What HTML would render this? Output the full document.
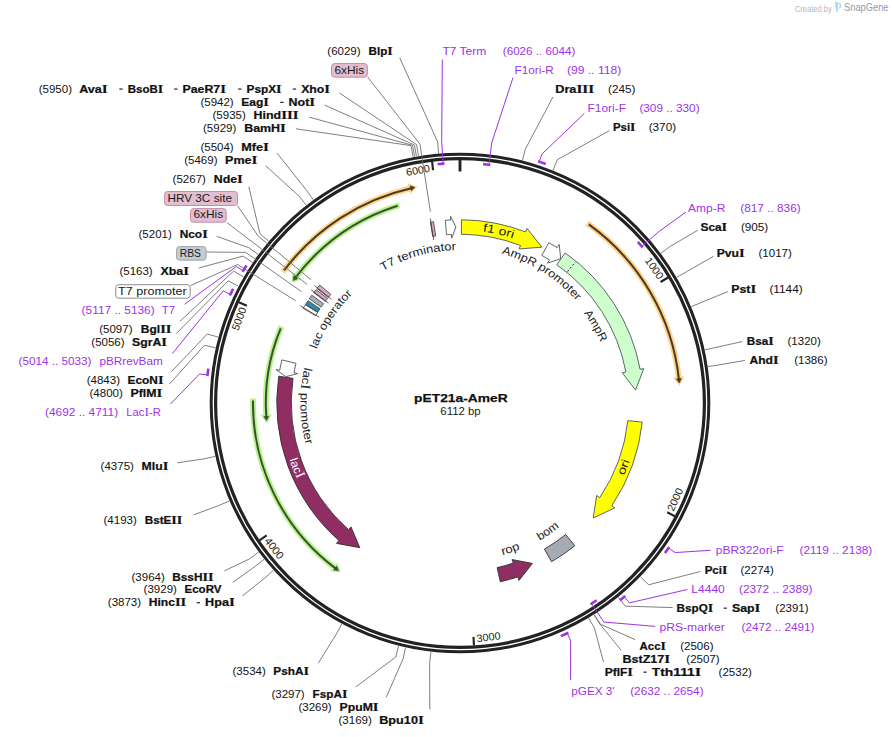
<!DOCTYPE html>
<html><head><meta charset="utf-8"><style>html,body{margin:0;padding:0;background:#fff;overflow:hidden}svg{display:block}</style></head>
<body><svg width="892" height="737" viewBox="0 0 892 737" font-family='"Liberation Sans", sans-serif'>
<defs><path id="p1" d="M311.61,365.73 A153.00,153.00 0 0 1 566.47,293.13"/><path id="p2" d="M332.86,285.68 A173.00,173.00 0 0 1 625.17,351.55"/><path id="p3" d="M387.71,265.89 A155.00,155.00 0 0 1 614.89,408.95"/><path id="p4" d="M461.07,250.00 A153.00,153.00 0 0 1 591.96,480.42"/><path id="p5" d="M486.84,580.48 A179.50,179.50 0 0 0 600.28,291.01"/><path id="p6" d="M391.30,546.39 A159.00,159.00 0 0 0 618.53,390.80"/><path id="p7" d="M356.34,522.24 A158.00,158.00 0 0 0 615.10,433.15"/><path id="p8" d="M318.98,291.63 A179.70,179.70 0 0 0 434.06,580.82"/><path id="p9" d="M377.56,266.34 A159.60,159.60 0 0 0 382.87,542.72"/><path id="p10" d="M323.68,472.46 A153.00,153.00 0 0 1 468.01,250.21"/></defs>
<rect width="892" height="737" fill="#fff"/>
<circle cx="460.0" cy="403.0" r="246.55" fill="none" stroke="#222" stroke-width="7.5"/>
<circle cx="460.0" cy="403.0" r="246.65" fill="none" stroke="#fff" stroke-width="1.3"/>
<line x1="460.00" y1="160.00" x2="460.00" y2="171.50" stroke="#222" stroke-width="2.9"/>
<line x1="668.07" y1="277.48" x2="660.62" y2="281.98" stroke="#222" stroke-width="2.1"/>
<line x1="674.95" y1="516.34" x2="667.26" y2="512.28" stroke="#222" stroke-width="2.1"/>
<line x1="473.98" y1="645.60" x2="473.48" y2="636.91" stroke="#222" stroke-width="2.1"/>
<line x1="259.49" y1="540.28" x2="266.67" y2="535.36" stroke="#222" stroke-width="2.1"/>
<line x1="238.88" y1="302.22" x2="246.80" y2="305.83" stroke="#222" stroke-width="2.1"/>
<line x1="432.08" y1="161.61" x2="433.08" y2="170.25" stroke="#222" stroke-width="2.1"/>
<text x="651.30" y="270.33" transform="rotate(55.26 651.30 270.33)" text-anchor="middle" font-size="10.6" textLength="24.0" lengthAdjust="spacingAndGlyphs" fill="#222">1000</text>
<text x="678.52" y="501.02" transform="rotate(-65.84 678.52 501.02)" text-anchor="middle" font-size="10.6" textLength="24.0" lengthAdjust="spacingAndGlyphs" fill="#222">2000</text>
<text x="488.94" y="640.75" transform="rotate(-6.94 488.94 640.75)" text-anchor="middle" font-size="10.6" textLength="24.0" lengthAdjust="spacingAndGlyphs" fill="#222">3000</text>
<text x="271.37" y="550.58" transform="rotate(51.96 271.37 550.58)" text-anchor="middle" font-size="10.6" textLength="24.0" lengthAdjust="spacingAndGlyphs" fill="#222">4000</text>
<text x="242.46" y="320.10" transform="rotate(290.86 242.46 320.10)" text-anchor="middle" font-size="10.6" textLength="24.0" lengthAdjust="spacingAndGlyphs" fill="#222">5000</text>
<text x="418.62" y="173.91" transform="rotate(349.76 418.62 173.91)" text-anchor="middle" font-size="10.6" textLength="24.0" lengthAdjust="spacingAndGlyphs" fill="#222">6000</text>
<path d="M461.47,219.76 A183.25,183.25 0 0 1 525.67,231.92 L527.01,228.42 L541.81,247.17 L519.13,248.96 L520.47,245.46 A168.75,168.75 0 0 0 461.35,234.26 Z" fill="#ffff00" stroke="#50545c" stroke-width="0.9" stroke-linejoin="miter"/>
<path d="M445.37,220.34 A183.25,183.25 0 0 1 450.73,219.98 L450.54,216.24 L455.91,227.05 L451.65,238.21 L451.46,234.47 A168.75,168.75 0 0 0 446.53,234.79 Z" fill="#fff" stroke="#50545c" stroke-width="0.9" stroke-linejoin="miter"/>
<path d="M548.84,242.73 A183.25,183.25 0 0 1 557.24,247.68 L559.23,244.50 L560.70,258.65 L547.56,263.15 L549.55,259.97 A168.75,168.75 0 0 0 541.81,255.41 Z" fill="#fff" stroke="#50545c" stroke-width="0.9" stroke-linejoin="miter"/>
<path d="M565.11,252.89 A183.25,183.25 0 0 1 640.12,369.29 L643.81,368.60 L635.53,390.11 L622.18,372.65 L625.87,371.96 A168.75,168.75 0 0 0 556.79,264.77 Z" fill="#ccffcc" stroke="#50545c" stroke-width="0.9" stroke-linejoin="miter"/>
<line x1="567.52" y1="271.64" x2="575.43" y2="261.97" stroke="#222" stroke-width="1" stroke-dasharray="2,2"/>
<path d="M642.25,422.15 A183.25,183.25 0 0 1 611.74,505.74 L614.85,507.84 L593.23,518.00 L596.63,495.51 L599.74,497.61 A168.75,168.75 0 0 0 627.83,420.64 Z" fill="#ffff00" stroke="#50545c" stroke-width="0.9" stroke-linejoin="miter"/>
<path d="M574.83,545.81 A183.25,183.25 0 0 1 551.62,561.70 L544.38,549.14 A168.75,168.75 0 0 0 565.74,534.51 Z" fill="#a6abb3" stroke="#333" stroke-width="0.9"/>
<path d="M500.29,581.77 A183.25,183.25 0 0 0 517.84,576.88 L519.03,580.44 L532.43,563.41 L512.08,559.56 L513.27,563.12 A168.75,168.75 0 0 1 497.10,567.62 Z" fill="#902d62" stroke="#333" stroke-width="0.9" stroke-linejoin="miter"/>
<path d="M278.72,376.23 A183.25,183.25 0 0 0 338.93,540.56 L336.46,543.38 L359.81,547.70 L350.99,526.86 L348.51,529.68 A168.75,168.75 0 0 1 293.06,378.35 Z" fill="#902d62" stroke="#333" stroke-width="0.9" stroke-linejoin="miter"/>
<path d="M281.89,359.91 A183.25,183.25 0 0 0 279.70,370.23 L276.01,369.56 L285.98,376.68 L297.66,373.50 L293.97,372.83 A168.75,168.75 0 0 1 295.98,363.32 Z" fill="#fff" stroke="#50545c" stroke-width="0.9" stroke-linejoin="miter"/>
<path d="M303.17,308.21 A183.25,183.25 0 0 1 305.36,304.67 L317.60,312.45 A168.75,168.75 0 0 0 315.58,315.71 Z" fill="#fff" stroke="#3a3a3a" stroke-width="0.8"/>
<line x1="319.08" y1="317.17" x2="300.29" y2="305.72" stroke="#3a3a3a" stroke-width="0.8"/>
<path d="M305.53,304.41 A183.25,183.25 0 0 1 307.99,300.66 L320.02,308.76 A168.75,168.75 0 0 0 317.76,312.21 Z" fill="#2e8ca6" stroke="#3a3a3a" stroke-width="0.8"/>
<path d="M309.25,298.81 A183.25,183.25 0 0 1 311.84,295.16 L323.56,303.69 A168.75,168.75 0 0 0 321.18,307.06 Z" fill="#a9b0b8" stroke="#3a3a3a" stroke-width="0.8"/>
<path d="M313.75,292.59 A183.25,183.25 0 0 1 316.09,289.55 L327.48,298.53 A168.75,168.75 0 0 0 325.32,301.33 Z" fill="#dba5c4" stroke="#3a3a3a" stroke-width="0.8"/>
<line x1="328.62" y1="303.17" x2="311.11" y2="289.86" stroke="#3a3a3a" stroke-width="0.8"/>
<path d="M316.99,288.42 A183.25,183.25 0 0 1 319.73,285.09 L330.82,294.42 A168.75,168.75 0 0 0 328.30,297.49 Z" fill="#dba5c4" stroke="#3a3a3a" stroke-width="0.8"/>
<line x1="331.59" y1="299.38" x2="314.47" y2="285.56" stroke="#3a3a3a" stroke-width="0.8"/>
<path d="M430.39,222.16 A183.25,183.25 0 0 1 433.55,221.67 L435.64,236.02 A168.75,168.75 0 0 0 432.73,236.47 Z" fill="#dba5c4" stroke="#3a3a3a" stroke-width="0.8"/>
<line x1="433.76" y1="240.10" x2="430.26" y2="218.38" stroke="#3a3a3a" stroke-width="0.8"/>
<path d="M587.18,223.24 A220.20,220.20 0 0 1 678.71,377.40" fill="none" stroke="#fdd38d" stroke-width="5.9"/>
<path d="M684.41,376.21 L679.52,385.66 L672.89,377.59 Z" fill="#fdd38d"/>
<path d="M588.81,224.40 A220.20,220.20 0 0 1 678.92,379.28" fill="none" stroke="#4a3c22" stroke-width="2.0"/>
<path d="M681.35,378.51 L679.29,382.97 L676.38,379.06 Z" fill="#4a3c22" stroke="#4a3c22" stroke-width="0.6" stroke-linejoin="miter"/>
<path d="M282.86,272.02 A220.30,220.30 0 0 1 409.33,188.61" fill="none" stroke="#fdd38d" stroke-width="5.9"/>
<path d="M407.50,183.08 L417.44,186.85 L410.19,194.36 Z" fill="#fdd38d"/>
<path d="M284.06,270.42 A220.30,220.30 0 0 1 411.18,188.18" fill="none" stroke="#4a3c22" stroke-width="2.0"/>
<path d="M410.14,185.85 L414.80,187.39 L411.26,190.72 Z" fill="#4a3c22" stroke="#4a3c22" stroke-width="0.6" stroke-linejoin="miter"/>
<path d="M399.63,205.10 A206.90,206.90 0 0 0 296.59,276.10" fill="none" stroke="#b6f490" stroke-width="5.9"/>
<path d="M292.32,272.14 L291.63,282.76 L301.46,279.28 Z" fill="#b6f490"/>
<path d="M397.72,205.70 A206.90,206.90 0 0 0 295.43,277.61" fill="none" stroke="#3c4f2e" stroke-width="2.0"/>
<path d="M293.75,275.69 L293.21,280.57 L297.72,278.73 Z" fill="#3c4f2e" stroke="#3c4f2e" stroke-width="0.6" stroke-linejoin="miter"/>
<path d="M281.49,326.53 A194.20,194.20 0 0 0 266.17,415.02" fill="none" stroke="#b6f490" stroke-width="5.9"/>
<path d="M260.35,414.86 L266.86,423.29 L271.93,414.17 Z" fill="#b6f490"/>
<path d="M280.71,328.37 A194.20,194.20 0 0 0 266.30,416.91" fill="none" stroke="#3c4f2e" stroke-width="2.0"/>
<path d="M263.77,416.59 L266.60,420.60 L268.76,416.24 Z" fill="#3c4f2e" stroke="#3c4f2e" stroke-width="0.6" stroke-linejoin="miter"/>
<path d="M253.05,398.54 A207.00,207.00 0 0 0 334.04,567.27" fill="none" stroke="#b6f490" stroke-width="5.9"/>
<path d="M330.11,571.56 L340.73,572.19 L337.19,562.37 Z" fill="#b6f490"/>
<path d="M253.01,400.54 A207.00,207.00 0 0 0 335.56,568.42" fill="none" stroke="#3c4f2e" stroke-width="2.0"/>
<path d="M333.65,570.11 L338.53,570.62 L336.67,566.12 Z" fill="#3c4f2e" stroke="#3c4f2e" stroke-width="0.6" stroke-linejoin="miter"/>
<text font-size="11.5" fill="#222" textLength="77" lengthAdjust="spacingAndGlyphs"><textPath href="#p1" startOffset="50%" text-anchor="middle">T7 terminator</textPath></text>
<text font-size="11.5" fill="#222" textLength="31" lengthAdjust="spacingAndGlyphs"><textPath href="#p2" startOffset="50%" text-anchor="middle">f1 ori</textPath></text>
<text font-size="11.5" fill="#222" textLength="90" lengthAdjust="spacingAndGlyphs"><textPath href="#p3" startOffset="50%" text-anchor="middle">AmpR promoter</textPath></text>
<text font-size="11.5" fill="#222" textLength="34" lengthAdjust="spacingAndGlyphs"><textPath href="#p4" startOffset="50%" text-anchor="middle">AmpR</textPath></text>
<text font-size="11.5" fill="#222" textLength="16" lengthAdjust="spacingAndGlyphs"><textPath href="#p5" startOffset="50%" text-anchor="middle">ori</textPath></text>
<text font-size="11.5" fill="#222" textLength="24" lengthAdjust="spacingAndGlyphs"><textPath href="#p6" startOffset="50%" text-anchor="middle">bom</textPath></text>
<text font-size="11.5" fill="#222" textLength="19" lengthAdjust="spacingAndGlyphs"><textPath href="#p7" startOffset="50%" text-anchor="middle">rop</textPath></text>
<text font-size="11.5" fill="#fff" textLength="21" lengthAdjust="spacingAndGlyphs"><textPath href="#p8" startOffset="50%" text-anchor="middle">lac<tspan font-family="Liberation Serif" font-size="13.80">I</tspan></textPath></text>
<text font-size="11.5" fill="#222" textLength="78" lengthAdjust="spacingAndGlyphs"><textPath href="#p9" startOffset="50%" text-anchor="middle">lac<tspan font-family="Liberation Serif" font-size="13.80">I</tspan> promoter</textPath></text>
<text font-size="11.5" fill="#222" textLength="66" lengthAdjust="spacingAndGlyphs"><textPath href="#p10" startOffset="50%" text-anchor="middle">lac operator</textPath></text>
<text x="460.85" y="401.8" text-anchor="middle" font-size="11.6" font-weight="bold" fill="#111" stroke="#111" stroke-width="0.25" textLength="93.5" lengthAdjust="spacingAndGlyphs">pET21a-AmeR</text>
<text x="460.5" y="414.9" text-anchor="middle" font-size="10.5" fill="#222" textLength="40.3" lengthAdjust="spacingAndGlyphs">6112 bp</text>
<text x="327.30" y="54.80" font-size="10.8" fill="#111" textLength="33.30" lengthAdjust="spacingAndGlyphs">(6029)</text>
<text x="368.50" y="54.80" font-size="10.8" font-weight="bold" stroke="#111" stroke-width="0.22" fill="#111" textLength="24.20" lengthAdjust="spacingAndGlyphs">Blp<tspan font-family="Liberation Serif" font-size="12.96">I</tspan></text>
<polyline points="399.70,57.80 437.67,141.95 438.65,153.41" fill="none" stroke="#707070" stroke-width="0.9"/>
<text x="38.70" y="92.60" font-size="10.8" fill="#111" textLength="33.30" lengthAdjust="spacingAndGlyphs">(5950)</text>
<text x="79.30" y="92.60" font-size="10.8" font-weight="bold" stroke="#111" stroke-width="0.22" fill="#111" textLength="28.30" lengthAdjust="spacingAndGlyphs">Ava<tspan font-family="Liberation Serif" font-size="12.96">I</tspan></text>
<rect x="119.30" y="88.50" width="3.3" height="1.1" fill="#111"/>
<text x="127.70" y="92.60" font-size="10.8" font-weight="bold" stroke="#111" stroke-width="0.22" fill="#111" textLength="35.50" lengthAdjust="spacingAndGlyphs">BsoB<tspan font-family="Liberation Serif" font-size="12.96">I</tspan></text>
<rect x="174.20" y="88.50" width="3.3" height="1.1" fill="#111"/>
<text x="182.60" y="92.60" font-size="10.8" font-weight="bold" stroke="#111" stroke-width="0.22" fill="#111" textLength="43.30" lengthAdjust="spacingAndGlyphs">PaeR7<tspan font-family="Liberation Serif" font-size="12.96">I</tspan></text>
<rect x="238.20" y="88.50" width="3.3" height="1.1" fill="#111"/>
<text x="246.60" y="92.60" font-size="10.8" font-weight="bold" stroke="#111" stroke-width="0.22" fill="#111" textLength="35.00" lengthAdjust="spacingAndGlyphs">PspX<tspan font-family="Liberation Serif" font-size="12.96">I</tspan></text>
<rect x="292.80" y="88.50" width="3.3" height="1.1" fill="#111"/>
<text x="301.20" y="92.60" font-size="10.8" font-weight="bold" stroke="#111" stroke-width="0.22" fill="#111" textLength="28.80" lengthAdjust="spacingAndGlyphs">Xho<tspan font-family="Liberation Serif" font-size="12.96">I</tspan></text>
<polyline points="339.50,93.00 416.57,144.62 418.47,155.97" fill="none" stroke="#707070" stroke-width="0.9"/>
<text x="200.40" y="105.90" font-size="10.8" fill="#111" textLength="33.30" lengthAdjust="spacingAndGlyphs">(5942)</text>
<text x="241.20" y="105.90" font-size="10.8" font-weight="bold" stroke="#111" stroke-width="0.22" fill="#111" textLength="27.80" lengthAdjust="spacingAndGlyphs">Eag<tspan font-family="Liberation Serif" font-size="12.96">I</tspan></text>
<rect x="280.20" y="101.80" width="3.3" height="1.1" fill="#111"/>
<text x="288.60" y="105.90" font-size="10.8" font-weight="bold" stroke="#111" stroke-width="0.22" fill="#111" textLength="26.60" lengthAdjust="spacingAndGlyphs">Not<tspan font-family="Liberation Serif" font-size="12.96">I</tspan></text>
<polyline points="324.60,105.10 414.45,144.99 416.44,156.32" fill="none" stroke="#707070" stroke-width="0.9"/>
<text x="212.50" y="119.40" font-size="10.8" fill="#111" textLength="33.30" lengthAdjust="spacingAndGlyphs">(5935)</text>
<text x="253.60" y="119.40" font-size="10.8" font-weight="bold" stroke="#111" stroke-width="0.22" fill="#111" textLength="45.00" lengthAdjust="spacingAndGlyphs">Hind<tspan font-family="Liberation Serif" font-size="12.96">I</tspan><tspan font-family="Liberation Serif" font-size="12.96">I</tspan><tspan font-family="Liberation Serif" font-size="12.96">I</tspan></text>
<polyline points="309.30,117.20 412.59,145.33 414.67,156.64" fill="none" stroke="#707070" stroke-width="0.9"/>
<text x="203.00" y="132.00" font-size="10.8" fill="#111" textLength="33.30" lengthAdjust="spacingAndGlyphs">(5929)</text>
<text x="244.20" y="132.00" font-size="10.8" font-weight="bold" stroke="#111" stroke-width="0.22" fill="#111" textLength="41.70" lengthAdjust="spacingAndGlyphs">BamH<tspan font-family="Liberation Serif" font-size="12.96">I</tspan></text>
<polyline points="295.90,128.80 411.00,145.62 413.15,156.92" fill="none" stroke="#707070" stroke-width="0.9"/>
<text x="200.40" y="150.80" font-size="10.8" fill="#111" textLength="33.30" lengthAdjust="spacingAndGlyphs">(5504)</text>
<text x="241.20" y="150.80" font-size="10.8" font-weight="bold" stroke="#111" stroke-width="0.22" fill="#111" textLength="27.80" lengthAdjust="spacingAndGlyphs">Mfe<tspan font-family="Liberation Serif" font-size="12.96">I</tspan></text>
<polyline points="277.00,153.00 306.70,190.53 313.43,199.86" fill="none" stroke="#707070" stroke-width="0.9"/>
<text x="184.20" y="163.80" font-size="10.8" fill="#111" textLength="33.30" lengthAdjust="spacingAndGlyphs">(5469)</text>
<text x="225.10" y="163.80" font-size="10.8" font-weight="bold" stroke="#111" stroke-width="0.22" fill="#111" textLength="32.30" lengthAdjust="spacingAndGlyphs">Pme<tspan font-family="Liberation Serif" font-size="12.96">I</tspan></text>
<polyline points="265.50,165.60 299.15,196.18 306.21,205.26" fill="none" stroke="#707070" stroke-width="0.9"/>
<text x="172.60" y="182.60" font-size="10.8" fill="#111" textLength="33.30" lengthAdjust="spacingAndGlyphs">(5267)</text>
<text x="213.80" y="182.60" font-size="10.8" font-weight="bold" stroke="#111" stroke-width="0.22" fill="#111" textLength="29.10" lengthAdjust="spacingAndGlyphs">Nde<tspan font-family="Liberation Serif" font-size="12.96">I</tspan></text>
<polyline points="248.80,186.60 259.97,233.79 268.75,241.22" fill="none" stroke="#707070" stroke-width="0.9"/>
<text x="138.50" y="237.90" font-size="10.8" fill="#111" textLength="33.30" lengthAdjust="spacingAndGlyphs">(5201)</text>
<text x="179.70" y="237.90" font-size="10.8" font-weight="bold" stroke="#111" stroke-width="0.22" fill="#111" textLength="28.00" lengthAdjust="spacingAndGlyphs">Nco<tspan font-family="Liberation Serif" font-size="12.96">I</tspan></text>
<polyline points="216.60,236.30 248.96,247.74 258.22,254.55" fill="none" stroke="#707070" stroke-width="0.9"/>
<text x="119.40" y="275.30" font-size="10.8" fill="#111" textLength="33.30" lengthAdjust="spacingAndGlyphs">(5163)</text>
<text x="160.50" y="275.30" font-size="10.8" font-weight="bold" stroke="#111" stroke-width="0.22" fill="#111" textLength="28.50" lengthAdjust="spacingAndGlyphs">Xba<tspan font-family="Liberation Serif" font-size="12.96">I</tspan></text>
<polyline points="198.70,268.00 243.06,256.10 252.58,262.55" fill="none" stroke="#707070" stroke-width="0.9"/>
<text x="99.20" y="332.70" font-size="10.8" fill="#111" textLength="33.30" lengthAdjust="spacingAndGlyphs">(5097)</text>
<text x="140.80" y="332.70" font-size="10.8" font-weight="bold" stroke="#111" stroke-width="0.22" fill="#111" textLength="30.60" lengthAdjust="spacingAndGlyphs">Bgl<tspan font-family="Liberation Serif" font-size="12.96">I</tspan><tspan font-family="Liberation Serif" font-size="12.96">I</tspan></text>
<polyline points="180.00,321.30 233.60,271.15 243.53,276.93" fill="none" stroke="#707070" stroke-width="0.9"/>
<text x="91.30" y="346.00" font-size="10.8" fill="#111" textLength="33.30" lengthAdjust="spacingAndGlyphs">(5056)</text>
<text x="132.10" y="346.00" font-size="10.8" font-weight="bold" stroke="#111" stroke-width="0.22" fill="#111" textLength="34.90" lengthAdjust="spacingAndGlyphs">SgrA<tspan font-family="Liberation Serif" font-size="12.96">I</tspan></text>
<polyline points="176.20,333.70 228.24,280.80 238.41,286.17" fill="none" stroke="#707070" stroke-width="0.9"/>
<text x="86.70" y="383.70" font-size="10.8" fill="#111" textLength="33.30" lengthAdjust="spacingAndGlyphs">(4843)</text>
<text x="127.60" y="383.70" font-size="10.8" font-weight="bold" stroke="#111" stroke-width="0.22" fill="#111" textLength="35.90" lengthAdjust="spacingAndGlyphs">EcoN<tspan font-family="Liberation Serif" font-size="12.96">I</tspan></text>
<polyline points="171.40,371.70 207.23,334.06 218.33,337.09" fill="none" stroke="#707070" stroke-width="0.9"/>
<text x="89.50" y="396.70" font-size="10.8" fill="#111" textLength="33.30" lengthAdjust="spacingAndGlyphs">(4800)</text>
<text x="130.50" y="396.70" font-size="10.8" font-weight="bold" stroke="#111" stroke-width="0.22" fill="#111" textLength="31.80" lengthAdjust="spacingAndGlyphs">PflM<tspan font-family="Liberation Serif" font-size="12.96">I</tspan></text>
<polyline points="169.50,384.00 204.43,345.30 215.65,347.83" fill="none" stroke="#707070" stroke-width="0.9"/>
<text x="100.60" y="470.10" font-size="10.8" fill="#111" textLength="33.30" lengthAdjust="spacingAndGlyphs">(4375)</text>
<text x="141.60" y="470.10" font-size="10.8" font-weight="bold" stroke="#111" stroke-width="0.22" fill="#111" textLength="26.80" lengthAdjust="spacingAndGlyphs">Mlu<tspan font-family="Liberation Serif" font-size="12.96">I</tspan></text>
<polyline points="177.40,462.80 204.02,458.86 215.26,456.41" fill="none" stroke="#707070" stroke-width="0.9"/>
<text x="103.50" y="523.90" font-size="10.8" fill="#111" textLength="33.30" lengthAdjust="spacingAndGlyphs">(4193)</text>
<text x="144.70" y="523.90" font-size="10.8" font-weight="bold" stroke="#111" stroke-width="0.22" fill="#111" textLength="37.60" lengthAdjust="spacingAndGlyphs">BstE<tspan font-family="Liberation Serif" font-size="12.96">I</tspan><tspan font-family="Liberation Serif" font-size="12.96">I</tspan></text>
<polyline points="193.50,514.90 218.88,505.50 229.46,501.00" fill="none" stroke="#707070" stroke-width="0.9"/>
<text x="131.50" y="580.50" font-size="10.8" fill="#111" textLength="33.30" lengthAdjust="spacingAndGlyphs">(3964)</text>
<text x="172.20" y="580.50" font-size="10.8" font-weight="bold" stroke="#111" stroke-width="0.22" fill="#111" textLength="41.40" lengthAdjust="spacingAndGlyphs">BssH<tspan font-family="Liberation Serif" font-size="12.96">I</tspan><tspan font-family="Liberation Serif" font-size="12.96">I</tspan></text>
<polyline points="224.40,570.90 249.44,558.91 258.68,552.07" fill="none" stroke="#707070" stroke-width="0.9"/>
<text x="143.60" y="593.30" font-size="10.8" fill="#111" textLength="33.30" lengthAdjust="spacingAndGlyphs">(3929)</text>
<text x="184.50" y="593.30" font-size="10.8" font-weight="bold" stroke="#111" stroke-width="0.22" fill="#111" textLength="37.00" lengthAdjust="spacingAndGlyphs">EcoRV</text>
<polyline points="232.70,582.50 255.18,566.38 264.17,559.21" fill="none" stroke="#707070" stroke-width="0.9"/>
<text x="107.80" y="606.30" font-size="10.8" fill="#111" textLength="33.30" lengthAdjust="spacingAndGlyphs">(3873)</text>
<text x="148.70" y="606.30" font-size="10.8" font-weight="bold" stroke="#111" stroke-width="0.22" fill="#111" textLength="37.60" lengthAdjust="spacingAndGlyphs">Hinc<tspan font-family="Liberation Serif" font-size="12.96">I</tspan><tspan font-family="Liberation Serif" font-size="12.96">I</tspan></text>
<rect x="196.70" y="602.20" width="3.3" height="1.1" fill="#111"/>
<text x="205.10" y="606.30" font-size="10.8" font-weight="bold" stroke="#111" stroke-width="0.22" fill="#111" textLength="29.80" lengthAdjust="spacingAndGlyphs">Hpa<tspan font-family="Liberation Serif" font-size="12.96">I</tspan></text>
<polyline points="242.30,596.00 264.92,577.90 273.49,570.22" fill="none" stroke="#707070" stroke-width="0.9"/>
<text x="232.50" y="675.30" font-size="10.8" fill="#111" textLength="33.30" lengthAdjust="spacingAndGlyphs">(3534)</text>
<text x="273.30" y="675.30" font-size="10.8" font-weight="bold" stroke="#111" stroke-width="0.22" fill="#111" textLength="35.70" lengthAdjust="spacingAndGlyphs">PshA<tspan font-family="Liberation Serif" font-size="12.96">I</tspan></text>
<polyline points="318.20,663.30 336.38,634.00 341.80,623.86" fill="none" stroke="#707070" stroke-width="0.9"/>
<text x="271.40" y="697.70" font-size="10.8" fill="#111" textLength="33.30" lengthAdjust="spacingAndGlyphs">(3297)</text>
<text x="312.60" y="697.70" font-size="10.8" font-weight="bold" stroke="#111" stroke-width="0.22" fill="#111" textLength="34.80" lengthAdjust="spacingAndGlyphs">FspA<tspan font-family="Liberation Serif" font-size="12.96">I</tspan></text>
<polyline points="355.60,687.10 395.75,657.00 398.57,645.85" fill="none" stroke="#707070" stroke-width="0.9"/>
<text x="298.40" y="710.60" font-size="10.8" fill="#111" textLength="33.30" lengthAdjust="spacingAndGlyphs">(3269)</text>
<text x="339.60" y="710.60" font-size="10.8" font-weight="bold" stroke="#111" stroke-width="0.22" fill="#111" textLength="38.90" lengthAdjust="spacingAndGlyphs">PpuM<tspan font-family="Liberation Serif" font-size="12.96">I</tspan></text>
<polyline points="386.30,697.20 403.09,658.74 405.59,647.52" fill="none" stroke="#707070" stroke-width="0.9"/>
<text x="338.50" y="723.60" font-size="10.8" fill="#111" textLength="33.30" lengthAdjust="spacingAndGlyphs">(3169)</text>
<text x="379.20" y="723.60" font-size="10.8" font-weight="bold" stroke="#111" stroke-width="0.22" fill="#111" textLength="44.70" lengthAdjust="spacingAndGlyphs">Bpu10<tspan font-family="Liberation Serif" font-size="12.96">I</tspan></text>
<polyline points="429.80,709.40 429.63,663.23 430.97,651.81" fill="none" stroke="#707070" stroke-width="0.9"/>
<text x="81.60" y="314.10" font-size="10.8" fill="#9d33e6" textLength="73.10" lengthAdjust="spacingAndGlyphs">(5117 .. 5136)</text>
<text x="161.70" y="314.10" font-size="10.8" fill="#9d33e6" textLength="13.30" lengthAdjust="spacingAndGlyphs">T7</text>
<path d="M243.18,270.69 A254.00,254.00 0 0 1 245.81,266.48" fill="none" stroke="#9d33e6" stroke-width="2.6" stroke-linecap="square"/>
<polyline points="184.70,304.20 236.36,266.52 242.33,270.17" fill="none" stroke="#9d33e6" stroke-width="1.0"/>
<text x="18.50" y="365.00" font-size="10.8" fill="#9d33e6" textLength="72.80" lengthAdjust="spacingAndGlyphs">(5014 .. 5033)</text>
<text x="99.40" y="365.00" font-size="10.8" fill="#9d33e6" textLength="63.30" lengthAdjust="spacingAndGlyphs">pBRrevBam</text>
<path d="M230.41,294.34 A254.00,254.00 0 0 1 232.58,289.88" fill="none" stroke="#9d33e6" stroke-width="2.6" stroke-linecap="square"/>
<polyline points="172.40,353.60 223.18,290.92 229.51,293.91" fill="none" stroke="#9d33e6" stroke-width="1.0"/>
<text x="45.00" y="415.70" font-size="10.8" fill="#9d33e6" textLength="73.10" lengthAdjust="spacingAndGlyphs">(4692 .. 4711)</text>
<text x="126.30" y="415.70" font-size="10.8" fill="#9d33e6" textLength="34.70" lengthAdjust="spacingAndGlyphs">Lac<tspan font-family="Liberation Serif" font-size="12.96">I</tspan>-R</text>
<path d="M207.56,374.86 A254.00,254.00 0 0 1 208.16,369.93" fill="none" stroke="#9d33e6" stroke-width="2.6" stroke-linecap="square"/>
<polyline points="170.50,403.90 199.61,373.97 206.57,374.75" fill="none" stroke="#9d33e6" stroke-width="1.0"/>
<rect x="331.55" y="63.55" width="35.85" height="13.65" rx="3" ry="3" fill="#e2bed1" stroke="#c48ca8" stroke-width="1"/>
<text x="334.50" y="74.00" font-size="11.2" fill="#1a1a1a" textLength="29.70" lengthAdjust="spacingAndGlyphs">6xHis</text>
<polyline points="367.70,77.10 419.92,144.08 430.40,211.78" fill="none" stroke="#707070" stroke-width="0.9"/>
<rect x="164.50" y="191.50" width="73.00" height="14.00" rx="3" ry="3" fill="#e2bed1" stroke="#c48ca8" stroke-width="1"/>
<text x="167.40" y="201.70" font-size="11.2" fill="#1a1a1a" textLength="64.60" lengthAdjust="spacingAndGlyphs">HRV 3C site</text>
<polyline points="237.50,205.60 258.13,235.99 310.91,279.66" fill="none" stroke="#707070" stroke-width="0.9"/>
<rect x="190.50" y="208.60" width="35.70" height="13.60" rx="3" ry="3" fill="#e2bed1" stroke="#c48ca8" stroke-width="1"/>
<text x="193.40" y="218.40" font-size="11.2" fill="#1a1a1a" textLength="29.70" lengthAdjust="spacingAndGlyphs">6xHis</text>
<polyline points="226.70,222.40 252.98,242.42 307.11,284.40" fill="none" stroke="#707070" stroke-width="0.9"/>
<rect x="176.55" y="246.55" width="29.55" height="13.65" rx="3" ry="3" fill="#c7cbd0" stroke="#9ea4ab" stroke-width="1"/>
<text x="179.80" y="256.90" font-size="11.2" fill="#1a1a1a" textLength="21.20" lengthAdjust="spacingAndGlyphs">RBS</text>
<polyline points="206.60,252.00 245.64,252.35 301.69,291.74" fill="none" stroke="#707070" stroke-width="0.9"/>
<rect x="115.75" y="284.70" width="74.45" height="13.50" rx="3" ry="3" fill="#fff" stroke="#8c8c8c" stroke-width="1"/>
<text x="118.10" y="294.60" font-size="11.2" fill="#1a1a1a" textLength="68.60" lengthAdjust="spacingAndGlyphs">T7 promoter</text>
<polyline points="190.70,285.50 237.57,264.55 295.72,300.75" fill="none" stroke="#707070" stroke-width="0.9"/>
<text x="442.40" y="54.90" font-size="10.8" fill="#9d33e6" textLength="43.90" lengthAdjust="spacingAndGlyphs">T7 Term</text>
<text x="502.80" y="54.90" font-size="10.8" fill="#9d33e6" textLength="72.50" lengthAdjust="spacingAndGlyphs">(6026 .. 6044)</text>
<path d="M438.81,163.94 A240.00,240.00 0 0 1 443.24,163.59" fill="none" stroke="#9d33e6" stroke-width="2.6" stroke-linecap="square"/>
<polyline points="442.30,59.50 441.70,141.64 443.17,162.59" fill="none" stroke="#9d33e6" stroke-width="1.0"/>
<text x="514.60" y="74.10" font-size="10.8" fill="#9d33e6" textLength="39.10" lengthAdjust="spacingAndGlyphs">F1ori-R</text>
<text x="567.10" y="74.10" font-size="10.8" fill="#9d33e6" textLength="54.10" lengthAdjust="spacingAndGlyphs">(99 .. 118)</text>
<path d="M484.38,164.24 A240.00,240.00 0 0 1 489.04,164.76" fill="none" stroke="#9d33e6" stroke-width="2.6" stroke-linecap="square"/>
<polyline points="513.00,77.60 491.70,142.93 489.16,163.77" fill="none" stroke="#9d33e6" stroke-width="1.0"/>
<text x="608.00" y="93.00" font-size="10.8" fill="#111" textLength="27.40" lengthAdjust="spacingAndGlyphs">(245)</text>
<text x="555.30" y="93.00" font-size="10.8" font-weight="bold" stroke="#111" stroke-width="0.22" fill="#111" textLength="38.90" lengthAdjust="spacingAndGlyphs">Dra<tspan font-family="Liberation Serif" font-size="12.96">I</tspan><tspan font-family="Liberation Serif" font-size="12.96">I</tspan><tspan font-family="Liberation Serif" font-size="12.96">I</tspan></text>
<polyline points="553.00,96.90 525.29,149.27 522.43,160.40" fill="none" stroke="#707070" stroke-width="0.9"/>
<text x="587.60" y="111.80" font-size="10.8" fill="#9d33e6" textLength="38.30" lengthAdjust="spacingAndGlyphs">F1ori-F</text>
<text x="639.40" y="111.80" font-size="10.8" fill="#9d33e6" textLength="60.20" lengthAdjust="spacingAndGlyphs">(309 .. 330)</text>
<path d="M539.33,161.71 A254.00,254.00 0 0 1 544.52,163.48" fill="none" stroke="#9d33e6" stroke-width="2.6" stroke-linecap="square"/>
<polyline points="584.40,113.40 541.83,154.11 539.65,160.76" fill="none" stroke="#9d33e6" stroke-width="1.0"/>
<text x="648.70" y="130.60" font-size="10.8" fill="#111" textLength="27.40" lengthAdjust="spacingAndGlyphs">(370)</text>
<text x="613.00" y="130.60" font-size="10.8" font-weight="bold" stroke="#111" stroke-width="0.22" fill="#111" textLength="22.40" lengthAdjust="spacingAndGlyphs">Psi<tspan font-family="Liberation Serif" font-size="12.96">I</tspan></text>
<polyline points="609.50,130.60 557.27,159.73 553.00,170.40" fill="none" stroke="#707070" stroke-width="0.9"/>
<text x="688.10" y="212.10" font-size="10.8" fill="#9d33e6" textLength="37.30" lengthAdjust="spacingAndGlyphs">Amp-R</text>
<text x="740.20" y="212.10" font-size="10.8" fill="#9d33e6" textLength="60.50" lengthAdjust="spacingAndGlyphs">(817 .. 836)</text>
<path d="M638.70,242.79 A240.00,240.00 0 0 1 641.79,246.31" fill="none" stroke="#9d33e6" stroke-width="2.6" stroke-linecap="square"/>
<polyline points="685.90,212.10 658.45,231.95 642.55,245.66" fill="none" stroke="#9d33e6" stroke-width="1.0"/>
<text x="740.90" y="231.10" font-size="10.8" fill="#111" textLength="27.40" lengthAdjust="spacingAndGlyphs">(905)</text>
<text x="700.50" y="231.10" font-size="10.8" font-weight="bold" stroke="#111" stroke-width="0.22" fill="#111" textLength="26.60" lengthAdjust="spacingAndGlyphs">Sca<tspan font-family="Liberation Serif" font-size="12.96">I</tspan></text>
<polyline points="697.70,230.30 670.08,246.44 660.86,253.31" fill="none" stroke="#707070" stroke-width="0.9"/>
<text x="758.50" y="257.20" font-size="10.8" fill="#111" textLength="33.30" lengthAdjust="spacingAndGlyphs">(1017)</text>
<text x="716.70" y="257.20" font-size="10.8" font-weight="bold" stroke="#111" stroke-width="0.22" fill="#111" textLength="28.00" lengthAdjust="spacingAndGlyphs">Pvu<tspan font-family="Liberation Serif" font-size="12.96">I</tspan></text>
<polyline points="713.60,256.30 686.67,271.61 676.72,277.38" fill="none" stroke="#707070" stroke-width="0.9"/>
<text x="769.40" y="292.80" font-size="10.8" fill="#111" textLength="33.30" lengthAdjust="spacingAndGlyphs">(1144)</text>
<text x="731.30" y="292.80" font-size="10.8" font-weight="bold" stroke="#111" stroke-width="0.22" fill="#111" textLength="24.90" lengthAdjust="spacingAndGlyphs">Pst<tspan font-family="Liberation Serif" font-size="12.96">I</tspan></text>
<polyline points="727.90,291.60 701.85,302.24 691.23,306.66" fill="none" stroke="#707070" stroke-width="0.9"/>
<text x="787.50" y="344.80" font-size="10.8" fill="#111" textLength="33.30" lengthAdjust="spacingAndGlyphs">(1320)</text>
<text x="746.80" y="344.80" font-size="10.8" font-weight="bold" stroke="#111" stroke-width="0.22" fill="#111" textLength="26.90" lengthAdjust="spacingAndGlyphs">Bsa<tspan font-family="Liberation Serif" font-size="12.96">I</tspan></text>
<polyline points="742.20,341.60 716.03,347.40 704.80,349.84" fill="none" stroke="#707070" stroke-width="0.9"/>
<text x="794.20" y="363.60" font-size="10.8" fill="#111" textLength="33.30" lengthAdjust="spacingAndGlyphs">(1386)</text>
<text x="749.50" y="363.60" font-size="10.8" font-weight="bold" stroke="#111" stroke-width="0.22" fill="#111" textLength="29.10" lengthAdjust="spacingAndGlyphs">Ahd<tspan font-family="Liberation Serif" font-size="12.96">I</tspan></text>
<polyline points="744.90,360.40 719.21,364.89 707.84,366.56" fill="none" stroke="#707070" stroke-width="0.9"/>
<text x="715.80" y="554.20" font-size="10.8" fill="#9d33e6" textLength="67.80" lengthAdjust="spacingAndGlyphs">pBR322ori-F</text>
<text x="799.60" y="554.20" font-size="10.8" fill="#9d33e6" textLength="72.70" lengthAdjust="spacingAndGlyphs">(2119 .. 2138)</text>
<path d="M668.55,548.00 A254.00,254.00 0 0 1 665.67,552.04" fill="none" stroke="#9d33e6" stroke-width="2.6" stroke-linecap="square"/>
<polyline points="710.60,550.30 675.11,552.57 669.37,548.57" fill="none" stroke="#9d33e6" stroke-width="1.0"/>
<text x="740.50" y="573.50" font-size="10.8" fill="#111" textLength="33.30" lengthAdjust="spacingAndGlyphs">(2274)</text>
<text x="704.70" y="573.50" font-size="10.8" font-weight="bold" stroke="#111" stroke-width="0.22" fill="#111" textLength="22.70" lengthAdjust="spacingAndGlyphs">Pci<tspan font-family="Liberation Serif" font-size="12.96">I</tspan></text>
<polyline points="700.30,571.50 648.66,584.80 640.38,576.82" fill="none" stroke="#707070" stroke-width="0.9"/>
<text x="691.30" y="592.90" font-size="10.8" fill="#9d33e6" textLength="33.50" lengthAdjust="spacingAndGlyphs">L4440</text>
<text x="739.00" y="592.90" font-size="10.8" fill="#9d33e6" textLength="73.50" lengthAdjust="spacingAndGlyphs">(2372 .. 2389)</text>
<path d="M624.24,596.75 A254.00,254.00 0 0 1 620.83,599.59" fill="none" stroke="#9d33e6" stroke-width="2.6" stroke-linecap="square"/>
<polyline points="687.40,589.50 629.42,602.85 624.89,597.52" fill="none" stroke="#9d33e6" stroke-width="1.0"/>
<text x="775.30" y="611.70" font-size="10.8" fill="#111" textLength="33.30" lengthAdjust="spacingAndGlyphs">(2391)</text>
<text x="676.60" y="611.70" font-size="10.8" font-weight="bold" stroke="#111" stroke-width="0.22" fill="#111" textLength="36.60" lengthAdjust="spacingAndGlyphs">BspQ<tspan font-family="Liberation Serif" font-size="12.96">I</tspan></text>
<rect x="723.60" y="607.60" width="3.3" height="1.1" fill="#111"/>
<text x="732.00" y="611.70" font-size="10.8" font-weight="bold" stroke="#111" stroke-width="0.22" fill="#111" textLength="28.40" lengthAdjust="spacingAndGlyphs">Sap<tspan font-family="Liberation Serif" font-size="12.96">I</tspan></text>
<polyline points="672.70,607.60 625.48,606.13 618.22,597.21" fill="none" stroke="#707070" stroke-width="0.9"/>
<text x="659.50" y="630.80" font-size="10.8" fill="#9d33e6" textLength="65.30" lengthAdjust="spacingAndGlyphs">pRS-marker</text>
<text x="741.50" y="630.80" font-size="10.8" fill="#9d33e6" textLength="72.80" lengthAdjust="spacingAndGlyphs">(2472 .. 2491)</text>
<path d="M595.58,601.03 A240.00,240.00 0 0 1 591.69,603.64" fill="none" stroke="#9d33e6" stroke-width="2.6" stroke-linecap="square"/>
<polyline points="655.20,626.40 603.76,622.03 592.24,604.48" fill="none" stroke="#9d33e6" stroke-width="1.0"/>
<text x="680.20" y="649.60" font-size="10.8" fill="#111" textLength="33.30" lengthAdjust="spacingAndGlyphs">(2506)</text>
<text x="639.60" y="649.60" font-size="10.8" font-weight="bold" stroke="#111" stroke-width="0.22" fill="#111" textLength="26.30" lengthAdjust="spacingAndGlyphs">Acc<tspan font-family="Liberation Serif" font-size="12.96">I</tspan></text>
<polyline points="635.30,639.70 600.37,624.23 594.21,614.52" fill="none" stroke="#707070" stroke-width="0.9"/>
<text x="686.30" y="662.80" font-size="10.8" fill="#111" textLength="33.30" lengthAdjust="spacingAndGlyphs">(2507)</text>
<text x="622.40" y="662.80" font-size="10.8" font-weight="bold" stroke="#111" stroke-width="0.22" fill="#111" textLength="47.80" lengthAdjust="spacingAndGlyphs">BstZ17<tspan font-family="Liberation Serif" font-size="12.96">I</tspan></text>
<polyline points="621.20,650.30 600.14,624.37 593.99,614.65" fill="none" stroke="#707070" stroke-width="0.9"/>
<text x="718.60" y="675.70" font-size="10.8" fill="#111" textLength="33.30" lengthAdjust="spacingAndGlyphs">(2532)</text>
<text x="604.70" y="675.70" font-size="10.8" font-weight="bold" stroke="#111" stroke-width="0.22" fill="#111" textLength="28.30" lengthAdjust="spacingAndGlyphs">PflF<tspan font-family="Liberation Serif" font-size="12.96">I</tspan></text>
<rect x="643.40" y="671.60" width="3.3" height="1.1" fill="#111"/>
<text x="651.80" y="675.70" font-size="10.8" font-weight="bold" stroke="#111" stroke-width="0.22" fill="#111" textLength="49.40" lengthAdjust="spacingAndGlyphs">Tth111<tspan font-family="Liberation Serif" font-size="12.96">I</tspan></text>
<polyline points="603.50,662.10 594.41,627.90 588.51,618.03" fill="none" stroke="#707070" stroke-width="0.9"/>
<text x="571.30" y="695.00" font-size="10.8" fill="#9d33e6" textLength="43.30" lengthAdjust="spacingAndGlyphs">pGEX 3'</text>
<text x="630.20" y="695.00" font-size="10.8" fill="#9d33e6" textLength="73.40" lengthAdjust="spacingAndGlyphs">(2632 .. 2654)</text>
<path d="M567.24,633.25 A254.00,254.00 0 0 1 562.01,635.62" fill="none" stroke="#9d33e6" stroke-width="2.6" stroke-linecap="square"/>
<polyline points="570.60,680.00 570.62,640.50 567.66,634.16" fill="none" stroke="#9d33e6" stroke-width="1.0"/>
<text x="794.8" y="11.5" font-size="8.6" fill="#b9b9b9" textLength="37" lengthAdjust="spacingAndGlyphs">Created by</text>
<path d="M834.6,1.8 L838.2,2.2 L837.6,12.6 L836.4,12.6 Z" fill="#a9dcf6"/><path d="M838.8,2.4 Q841.6,3.2 841.4,6.2 Q841.0,8.6 838.6,9.0 L838.8,7.4 Q839.9,6.6 839.8,5.4 Q839.6,4.1 838.6,3.9 Z" fill="#a9dcf6"/>
<text x="844" y="11.4" font-size="10.2" fill="#959a9f" textLength="44.5" lengthAdjust="spacingAndGlyphs">SnapGene</text>
</svg></body></html>
